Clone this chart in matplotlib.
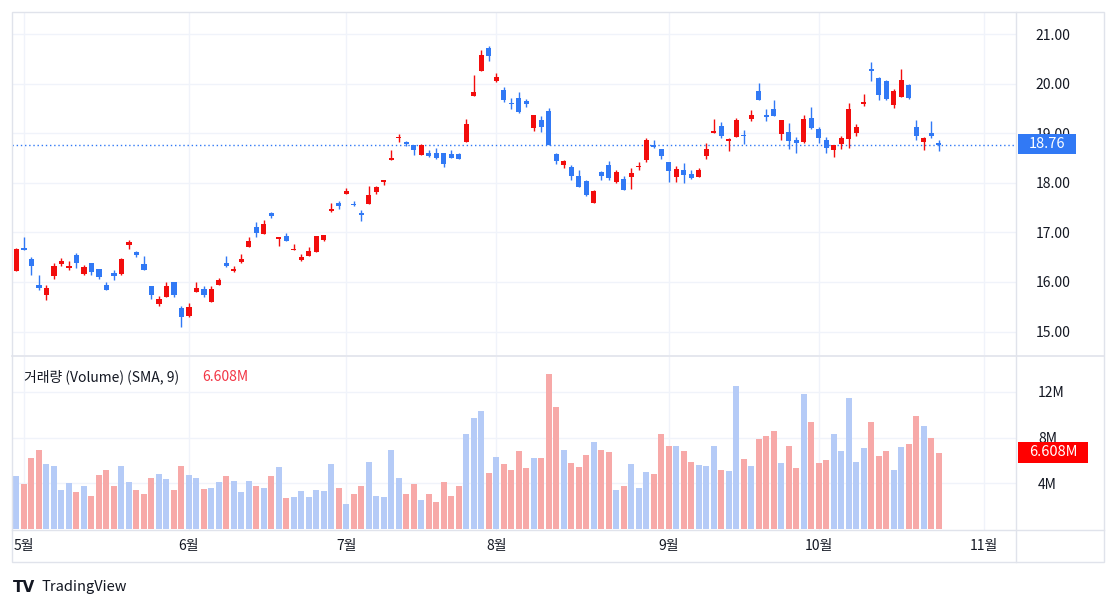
import numpy as np
import matplotlib
matplotlib.use('Agg')
import matplotlib.pyplot as plt
from matplotlib.patches import Rectangle

plt.rcParams['font.family'] = ['Noto Sans CJK KR', 'DejaVu Sans']

# daily candles, 1 = Apr 30 ... 124 = late Oct
opens = [16.23, 16.69, 16.46, 15.94, 15.74, 16.12, 16.36, 16.29, 16.54, 16.17,
         16.39, 16.26, 15.94, 16.19, 16.16, 16.75, 16.60, 16.36, 15.91, 15.56,
         15.70, 16.01, 15.48, 15.31, 15.80, 15.86, 15.60, 15.93, 16.38, 16.22,
         16.40, 16.71, 17.10, 16.97, 17.39, 16.87, 16.93, 16.64, 16.44, 16.53,
         16.61, 16.85, 17.44, 17.60, 17.77, 17.58, 17.38, 17.57, 17.82, 18.02,
         18.45, 18.90, 18.82, 18.77, 18.57, 18.61, 18.60, 18.60, 18.59, 18.59,
         18.83, 19.75, 20.26, 20.72, 20.06, 19.87, 19.61, 19.70, 19.65, 19.11,
         19.27, 19.44, 18.58, 18.36, 18.31, 18.14, 18.04, 17.60, 18.22, 18.36,
         18.02, 18.08, 18.12, 18.31, 18.45, 18.76, 18.68, 18.42, 18.11, 18.26,
         18.17, 18.12, 18.55, 19.01, 19.15, 18.85, 18.93, 18.96, 19.29, 19.85,
         19.37, 19.49, 18.98, 19.03, 18.86, 18.83, 19.30, 19.08, 18.86, 18.66,
         18.78, 18.88, 19.01, 19.59, 20.29, 20.12, 20.06, 19.57, 19.74, 19.97,
         19.12, 18.83, 19.01, 18.81]
highs = [16.68, 16.91, 16.51, 16.14, 15.94, 16.39, 16.48, 16.42, 16.58, 16.34,
         16.39, 16.26, 15.99, 16.24, 16.49, 16.85, 16.62, 16.53, 15.91, 15.72,
         16.01, 16.01, 15.52, 15.58, 15.99, 15.91, 15.91, 16.09, 16.52, 16.32,
         16.56, 16.91, 17.20, 17.24, 17.42, 16.91, 16.99, 16.77, 16.56, 16.71,
         16.93, 16.95, 17.60, 17.64, 17.89, 17.64, 17.45, 17.94, 17.94, 18.06,
         18.67, 18.98, 18.85, 18.77, 18.79, 18.66, 18.70, 18.60, 18.66, 18.60,
         19.29, 20.17, 20.68, 20.75, 20.22, 19.93, 19.70, 19.84, 19.68, 19.37,
         19.35, 19.51, 18.61, 18.46, 18.35, 18.26, 18.05, 17.86, 18.24, 18.43,
         18.26, 18.14, 18.30, 18.41, 18.90, 18.86, 18.68, 18.42, 18.33, 18.39,
         18.26, 18.30, 18.81, 19.29, 19.23, 18.91, 19.30, 19.06, 19.47, 20.02,
         19.48, 19.66, 19.27, 19.20, 18.93, 19.37, 19.52, 19.13, 18.92, 18.76,
         18.94, 19.61, 19.18, 19.79, 20.44, 20.14, 20.07, 19.89, 20.29, 20.00,
         19.27, 18.92, 19.25, 18.87]
lows = [16.22, 16.64, 16.14, 15.84, 15.64, 16.07, 16.33, 16.24, 16.29, 16.14,
        16.14, 16.07, 15.84, 16.04, 16.14, 16.67, 16.51, 16.24, 15.65, 15.52,
        15.70, 15.70, 15.10, 15.29, 15.80, 15.70, 15.60, 15.93, 16.31, 16.21,
        16.39, 16.71, 16.91, 16.97, 17.30, 16.73, 16.83, 16.64, 16.43, 16.53,
        16.61, 16.83, 17.42, 17.48, 17.77, 17.53, 17.22, 17.57, 17.77, 17.95,
        18.45, 18.83, 18.74, 18.57, 18.57, 18.53, 18.49, 18.31, 18.51, 18.47,
        18.83, 19.75, 20.26, 20.46, 20.04, 19.63, 19.48, 19.41, 19.53, 19.05,
        19.03, 18.76, 18.37, 18.29, 18.06, 17.92, 17.74, 17.60, 18.06, 18.06,
        18.00, 17.86, 17.87, 18.26, 18.41, 18.70, 18.48, 18.02, 18.01, 18.00,
        18.07, 18.12, 18.48, 19.01, 18.91, 18.65, 18.93, 18.78, 19.25, 19.67,
        19.25, 19.35, 18.86, 18.68, 18.60, 18.80, 19.08, 18.81, 18.61, 18.53,
        18.68, 18.71, 18.95, 19.55, 20.06, 19.67, 19.66, 19.51, 19.74, 19.68,
        18.86, 18.66, 18.90, 18.65]
closes = [16.66, 16.65, 16.33, 15.88, 15.87, 16.32, 16.43, 16.33, 16.39, 16.30,
          16.21, 16.11, 15.84, 16.13, 16.46, 16.81, 16.54, 16.24, 15.74, 15.66,
          15.92, 15.74, 15.30, 15.49, 15.87, 15.74, 15.85, 16.05, 16.33, 16.27,
          16.46, 16.83, 16.98, 17.17, 17.33, 16.91, 16.83, 16.65, 16.50, 16.62,
          16.93, 16.95, 17.48, 17.53, 17.84, 17.55, 17.36, 17.75, 17.92, 18.03,
          18.51, 18.93, 18.78, 18.66, 18.76, 18.55, 18.51, 18.37, 18.51, 18.49,
          19.19, 19.83, 20.58, 20.56, 20.13, 19.67, 19.58, 19.43, 19.59, 19.37,
          19.13, 18.76, 18.43, 18.44, 18.14, 17.92, 17.75, 17.84, 18.14, 18.10,
          18.22, 17.86, 18.19, 18.33, 18.86, 18.73, 18.55, 18.24, 18.28, 18.16,
          18.10, 18.26, 18.69, 19.05, 18.94, 18.88, 19.27, 18.94, 19.37, 19.67,
          19.33, 19.35, 19.27, 18.85, 18.81, 19.29, 19.11, 18.91, 18.71, 18.76,
          18.90, 19.48, 19.12, 19.61, 20.26, 19.78, 19.69, 19.85, 20.07, 19.70,
          18.94, 18.90, 18.94, 18.76]
# volume in millions
volume = [4.6, 3.9, 6.2, 6.9, 5.7, 5.5, 3.4, 4.0, 3.2, 3.8,
          2.9, 4.7, 5.2, 3.8, 5.5, 4.1, 3.4, 3.1, 4.5, 4.8,
          4.4, 3.4, 5.5, 4.7, 4.5, 3.5, 3.6, 4.1, 4.6, 4.2,
          3.2, 4.2, 3.8, 3.6, 4.6, 5.4, 2.7, 2.8, 3.3, 2.8,
          3.4, 3.3, 5.7, 3.6, 2.2, 3.1, 3.8, 5.9, 2.9, 2.8,
          6.9, 4.5, 3.1, 3.9, 2.5, 3.1, 2.4, 4.1, 2.9, 3.8,
          8.3, 9.7, 10.3, 4.9, 6.3, 5.7, 5.2, 6.8, 5.3, 6.2,
          6.2, 13.6, 10.7, 6.9, 5.8, 5.4, 6.5, 7.6, 6.9, 6.7,
          3.4, 3.8, 5.7, 3.6, 5.0, 4.8, 8.3, 7.3, 7.3, 6.8,
          5.9, 5.6, 5.5, 7.3, 5.2, 5.1, 12.5, 6.1, 5.5, 7.9,
          8.1, 8.6, 5.8, 7.3, 5.3, 11.8, 9.4, 5.8, 6.0, 8.3,
          6.8, 11.5, 5.9, 7.1, 9.4, 6.4, 6.8, 5.2, 7.2, 7.4,
          9.9, 9.0, 8.0, 6.608]

month_labels = ['5월', '6월', '7월', '8월', '9월', '10월', '11월']
month_idx = [2, 24, 45, 65, 88, 108, 130]
price_ticks = [15, 16, 17, 18, 19, 20, 21]
vol_ticks = [4, 8, 12]

W, H = 1118, 609
UP = '#f20d0d'
DOWN = '#3179f5'
VOL_UP = '#b5cbf7'
VOL_DOWN = '#f7a9a8'
GRID = '#f0f3fa'
BORDER = '#e0e3eb'
TXT = '#131722'


def box(l, t, r, b):
    return [l / W, 1 - b / H, (r - l) / W, (b - t) / H]


x = np.arange(1, len(closes) + 1)
o = np.array(opens)
c = np.array(closes)
hi = np.array(highs)
lo = np.array(lows)
up = c >= o
cols = np.where(up, UP, DOWN)

fig = plt.figure(figsize=(W / 100, H / 100), dpi=100)
fig.patch.set_facecolor('white')

ax = fig.add_axes(box(12, 12, 1016, 355))
axv = fig.add_axes(box(12, 357, 1016, 530), sharex=ax)
axx = fig.add_axes(box(12, 530, 1016, 562), sharex=ax)

xlim = (0.4, 134.3)

# price pane
for m in month_idx:
    ax.axvline(m, color=GRID, lw=1, zorder=0)
    axv.axvline(m, color=GRID, lw=1, zorder=0)
for p in price_ticks:
    ax.axhline(p, color=GRID, lw=1, zorder=0)
ax.vlines(x, lo, hi, colors=cols, lw=1.0, zorder=2)
body_h = np.maximum(np.abs(c - o), 0.03)
ax.bar(x, body_h, bottom=np.minimum(o, c), width=0.68, color=cols, zorder=3, linewidth=0)
ax.axhline(closes[-1], color=DOWN, lw=1, ls=(0, (1, 2)), zorder=1)
ax.set_ylim(14.528, 21.444)
ax.set_xlim(*xlim)
ax.yaxis.tick_right()
ax.set_yticks(price_ticks)
ax.set_yticklabels([f'{p:.2f}' for p in price_ticks])
ax.tick_params(axis='y', length=0, pad=14, labelsize=10, labelcolor=TXT)
ax.tick_params(axis='x', bottom=False, labelbottom=False)

# volume pane
for v in vol_ticks:
    axv.axhline(v, color=GRID, lw=1, zorder=0)
vcols = np.where(up, VOL_UP, VOL_DOWN)
axv.bar(x, volume, width=0.8, color=vcols, linewidth=0, zorder=2)
axv.set_ylim(-0.09, 15.05)
axv.yaxis.tick_right()
axv.set_yticks(vol_ticks)
axv.set_yticklabels([f'{v}M' for v in vol_ticks])
axv.tick_params(axis='y', length=0, pad=16, labelsize=10, labelcolor=TXT)
axv.tick_params(axis='x', bottom=False, labelbottom=False)

# month axis strip
axx.set_ylim(0, 1)
axx.set_yticks([])
axx.tick_params(axis='x', bottom=False, labelbottom=False)
for m, lab in zip(month_idx, month_labels):
    axx.text(m, 0.5, lab, ha='center', va='center', fontsize=10, color=TXT, clip_on=True)

for a in (ax, axv, axx):
    for s in a.spines.values():
        s.set_visible(False)
    a.set_facecolor('none')

# frame and separators
fig.add_artist(Rectangle((12 / W, 1 - 562 / H), (1104 - 12) / W, (562 - 12) / H,
                         transform=fig.transFigure, fill=False, ec=BORDER, lw=1))
fig.add_artist(plt.Line2D([12 / W, 1104 / W], [1 - 356 / H] * 2, transform=fig.transFigure,
                          color=BORDER, lw=1.2))
fig.add_artist(plt.Line2D([12 / W, 1104 / W], [1 - 530 / H] * 2, transform=fig.transFigure,
                          color=BORDER, lw=1))
fig.add_artist(plt.Line2D([1016 / W] * 2, [1 - 562 / H, 1 - 12 / H], transform=fig.transFigure,
                          color=BORDER, lw=1))

# last price / last volume labels
fig.add_artist(Rectangle(((1018) / W, 1 - 154 / H), 58 / W, 20 / H, transform=fig.transFigure,
                         fc=DOWN, ec='none', zorder=10))
fig.text(1047 / W, 1 - 144 / H, f'{closes[-1]:.2f}', ha='center', va='center',
         color='white', fontsize=10.5, zorder=11)
fig.add_artist(Rectangle((1018 / W, 1 - 463 / H), 70 / W, 21 / H, transform=fig.transFigure,
                         fc='#ff0000', ec='none', zorder=10))
fig.text(1053 / W, 1 - 452.5 / H, f'{volume[-1]:.3f}M', ha='center', va='center',
         color='white', fontsize=10.5, zorder=11)

# volume legend
fig.text(24 / W, 1 - 377 / H, '거래량 (Volume) (SMA, 9)', ha='left', va='center',
         color=TXT, fontsize=10)
fig.text(202 / W, 1 - 377 / H, f'{volume[-1]:.3f}M', ha='left', va='center',
         color='#f23645', fontsize=10)

# watermark
fig.text(13 / W, 1 - 587 / H, 'TV', ha='left', va='center', color=TXT, fontsize=11,
         fontweight='heavy', family='DejaVu Sans')
fig.text(41 / W, 1 - 587 / H, 'TradingView', ha='left', va='center', color=TXT, fontsize=10.5)

fig.savefig('out.png', dpi=100)
